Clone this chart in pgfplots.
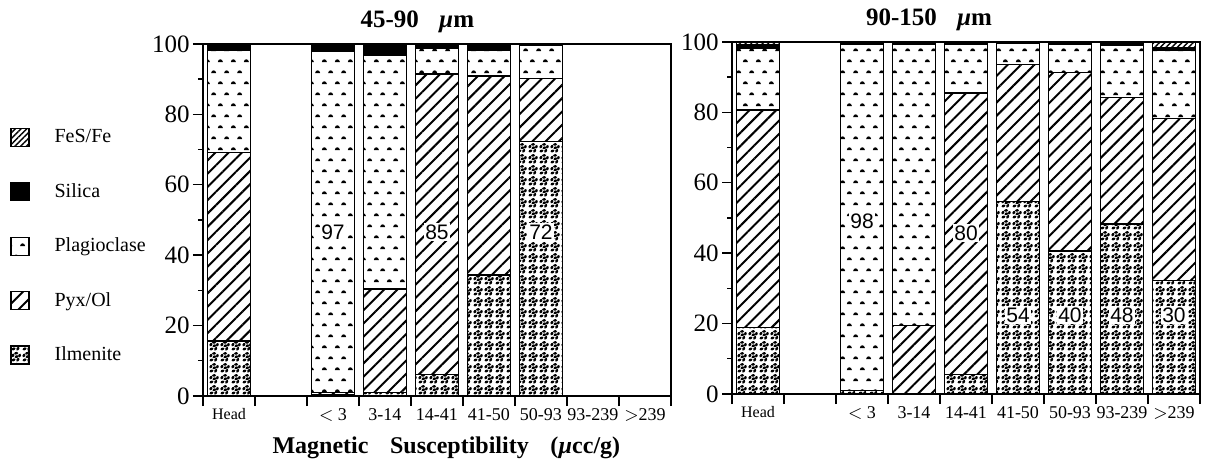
\documentclass[border=0pt]{standalone}
\usepackage{fontspec}
\setmainfont{Liberation Serif}
\newfontfamily\lsans{Liberation Sans}
\usepackage{pgfplots}
\pgfplotsset{compat=1.18}
\usepackage{pgfplotstable}
\usetikzlibrary{patterns,patterns.meta}

\tikzdeclarepattern{
  name=plag,
  bounding box={(0pt,0pt) and (6.4pt,11.2pt)},
  tile size={(6.4pt,11.2pt)},
  code={
    \fill (0.4pt,1.0pt) .. controls (0.6pt,2.9pt) and (2.8pt,2.9pt) .. (3.0pt,1.0pt) -- cycle;
    \fill (3.6pt,6.6pt) .. controls (3.8pt,8.5pt) and (6.0pt,8.5pt) .. (6.2pt,6.6pt) -- cycle;
  }
}
\tikzdeclarepattern{
  name=ilm,
  bounding box={(0pt,0pt) and (5.5pt,5.5pt)},
  tile size={(5.5pt,5.5pt)},
  code={
    \draw[line width=1.3pt,line cap=round] (0.9pt,0.9pt) -- (1.8pt,1.3pt);
    \draw[line width=1.3pt,line cap=round] (3.4pt,0.8pt) -- (3.9pt,1.6pt);
    \draw[line width=1.3pt,line cap=round] (0.8pt,3.1pt) -- (1.3pt,3.9pt);
    \draw[line width=1.3pt,line cap=round] (2.5pt,2.7pt) -- (3.4pt,3.0pt);
    \draw[line width=1.3pt,line cap=round] (4.4pt,3.0pt) -- (4.7pt,3.8pt);
    \draw[line width=1.3pt,line cap=round] (2.3pt,4.6pt) -- (3.2pt,4.7pt);
  }
}

\pgfplotstableread{
x  ilm   pyx   plag  sil  fes
0  15.6  53.5  29.0  1.6  0.3
2  0.5   0.5   97.0  2.0  0.0
3  1.0   29.4  66.5  3.1  0.0
4  6.0   85.5  7.3   1.2  0.0
5  34.4  56.5  7.2   1.9  0.0
6  72.4  17.8  9.4   0.4  0.0
}\leftdata
\pgfplotstableread{
x  ilm   pyx   plag  sil  fes
0  18.8  61.9  17.5  1.2  0.6
2  1.0   0.0   98.3  0.7  0.0
3  0.0   19.4  80.0  0.6  0.0
4  5.5   80.0  13.7  0.8  0.0
5  54.6  39.1  5.8   0.5  0.0
6  40.6  50.7  7.9   0.8  0.0
7  48.3  35.9  14.8  1.0  0.0
8  32.2  46.1  19.2  1.0  1.5
}\rightdata

\pgfplotsset{
  box/.style={
    scale only axis, width=234pt, height=176pt,
    xmin=-0.5, xmax=8.5, ymin=0, ymax=100,
  },
  myax/.style={
    box,
    ybar stacked, bar width=0.83,
    xtick={-0.5,0.5,...,8.5},
    x tick label as interval,
    xticklabels={{\fontsize{8}{9}\selectfont Head},,{$<$ 3},3-14,14-41,41-50,50-93,93-239,{$>$239}},
    ytick={0,20,...,100}, minor ytick={10,30,...,90},
    tick align=outside, tick pos=left,
    major tick length=5pt, minor tick length=2.5pt,
    axis line style={line width=0.9pt},
    every tick/.style={black,line width=0.7pt},
    /pgf/number format/assume math mode=true,
    y tick label style={font=\fontsize{12.5}{14}\selectfont, inner sep=1.5pt},
    x tick label style={font=\fontsize{9}{10}\selectfont, inner sep=1pt},
    title style={anchor=base, yshift=2pt, font=\fontsize{12.5}{14}\selectfont\bfseries},
  },
  barsty/.style={draw=black, line width=0.6pt},
}
\tikzset{lbl/.style={fill=white, inner sep=0.8pt, font=\lsans\fontsize{10.5}{12}\selectfont}}

\begin{document}
\begin{tikzpicture}
\path[use as bounding box] (0pt,0pt) rectangle (603pt,230.5pt);

\begin{axis}[myax, at={(101.5pt,32.5pt)}, anchor=south west,
  title={45-90\hspace{0.8em}\textit{µ}m}, title style={at={(0.458,1)}},
  xlabel={Magnetic\hspace{0.9em}Susceptibility\hspace{0.9em}(\textit{µ}cc/g)},
  xlabel style={at={(0.52,0)}, anchor=base, yshift=-28.5pt, font=\fontsize{12}{14}\selectfont\bfseries},
  legend style={draw=none, fill=none, at={(-0.4124,0.763)}, anchor=north west,
    inner sep=0pt, row sep=17.6pt, column sep=12.5pt,
    font=\fontsize{10}{12}\selectfont, nodes={inner sep=0pt}},
  legend cell align=left,
]
\addlegendimage{legend image code/.code={\draw[pattern={Lines[angle=45,distance=2pt,line width=0.7pt]},line width=0.6pt] (0pt,-4.5pt) rectangle (9pt,4.5pt);}}
\addlegendentry{FeS/Fe}
\addlegendimage{legend image code/.code={\draw[fill=black,line width=0.6pt] (0pt,-4.5pt) rectangle (9pt,4.5pt);}}
\addlegendentry{Silica}
\addlegendimage{legend image code/.code={\draw[pattern=plag,line width=0.6pt] (0pt,-4.5pt) rectangle (9pt,4.5pt);}}
\addlegendentry{Plagioclase}
\addlegendimage{legend image code/.code={\draw[pattern={Lines[angle=45,distance=4.7pt,line width=1pt]},line width=0.6pt] (0pt,-4.5pt) rectangle (9pt,4.5pt);}}
\addlegendentry{Pyx/Ol}
\addlegendimage{legend image code/.code={\draw[pattern=ilm,line width=0.6pt] (0pt,-4.5pt) rectangle (9pt,4.5pt);}}
\addlegendentry{Ilmenite}

\addplot[barsty, pattern=ilm] table[x=x,y=ilm]{\leftdata};
\addplot[barsty, pattern={Lines[angle=45,distance=4.7pt,line width=1pt]}] table[x=x,y=pyx]{\leftdata};
\addplot[barsty, pattern=plag] table[x=x,y=plag]{\leftdata};
\addplot[barsty, fill=black] table[x=x,y=sil]{\leftdata};
\addplot[barsty, pattern={Lines[angle=45,distance=2pt,line width=0.7pt]}] table[x=x,y=fes]{\leftdata};
\end{axis}

\begin{axis}[box, hide axis, at={(101.5pt,32.5pt)}, anchor=south west]
\node[lbl] at (axis cs:2,46.6) {97};
\node[lbl] at (axis cs:4,46.6) {85};
\node[lbl] at (axis cs:6,46.6) {72};
\end{axis}

\begin{axis}[myax, at={(366pt,33.5pt)}, anchor=south west,
  title={90-150\hspace{0.8em}\textit{µ}m}, title style={at={(0.421,1)}},
]
\addplot[barsty, pattern=ilm] table[x=x,y=ilm]{\rightdata};
\addplot[barsty, pattern={Lines[angle=45,distance=4.7pt,line width=1pt]}] table[x=x,y=pyx]{\rightdata};
\addplot[barsty, pattern=plag] table[x=x,y=plag]{\rightdata};
\addplot[barsty, fill=black] table[x=x,y=sil]{\rightdata};
\addplot[barsty, pattern={Lines[angle=45,distance=2pt,line width=0.7pt]}] table[x=x,y=fes]{\rightdata};
\end{axis}

\begin{axis}[box, hide axis, at={(366pt,33.5pt)}, anchor=south west]
\node[lbl] at (axis cs:2,49.2) {98};
\node[lbl] at (axis cs:4,45.8) {80};
\node[lbl] at (axis cs:5,22.4) {54};
\node[lbl] at (axis cs:6,22.4) {40};
\node[lbl] at (axis cs:7,22.4) {48};
\node[lbl] at (axis cs:8,22.4) {30};
\end{axis}
\end{tikzpicture}
\end{document}
